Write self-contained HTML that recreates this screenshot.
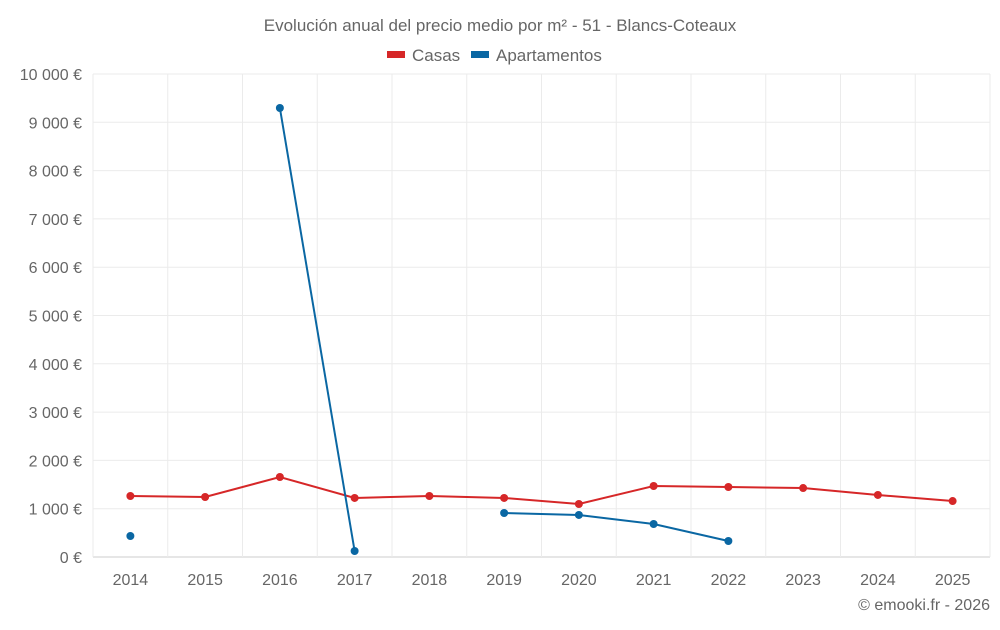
<!DOCTYPE html>
<html><head><meta charset="utf-8"><style>
body{margin:0;background:#fff;font-family:"Liberation Sans",sans-serif;}
svg text{font-family:"Liberation Sans",sans-serif;fill:#666;}
</style></head><body>
<svg id="chart" width="1000" height="625">
<text x="500" y="31" text-anchor="middle" font-size="17">Evolución anual del precio medio por m² - 51 - Blancs-Coteaux</text>
<g>
<g><rect x="387" y="51" width="18" height="7" fill="#d62728"/><text x="412" y="61" font-size="17">Casas</text></g>
<g><rect x="471" y="51" width="18" height="7" fill="#0a67a3"/><text x="496" y="61" font-size="17">Apartamentos</text></g>
</g>
<g id="grid"></g><g id="axes"></g><g id="series"></g>
<text x="990" y="610" text-anchor="end" font-size="16">© emooki.fr - 2026</text>
</svg>
<script>
const years=["2014","2015","2016","2017","2018","2019","2020","2021","2022","2023","2024","2025"];
const casas=[1263,1242,1656,1222,1263,1222,1097,1470,1449,1428,1284,1159];
const apartamentos=[435,null,9296,124,null,911,870,683,331,null,null,null];
const yTicks=[0,1000,2000,3000,4000,5000,6000,7000,8000,9000,10000];
const yTickLabels=["0 €","1 000 €","2 000 €","3 000 €","4 000 €","5 000 €","6 000 €","7 000 €","8 000 €","9 000 €","10 000 €"];
const L=93,R=990,T=74,B=557,NS="http://www.w3.org/2000/svg";
const bw=(R-L)/years.length;
const xs=i=>L+bw*(i+0.5);
const ys=v=>B-(v/10000)*(B-T);
function mk(tag,attrs,parent){const e=document.createElementNS(NS,tag);for(const k in attrs)e.setAttribute(k,attrs[k]);document.getElementById(parent).appendChild(e);return e;}
yTicks.forEach((v,i)=>{
 const g=mk("line",{x1:L,x2:R,y1:ys(v),y2:ys(v),stroke:i==0?"#ccc":"#ebebeb","stroke-width":1},"grid");
 
 
 const t=mk("text",{x:82,y:ys(v)+6,"text-anchor":"end","font-size":"16"},"axes");t.textContent=yTickLabels[i];
 
 
});
for(let i=0;i<=years.length;i++){
 const g=mk("line",{x1:L+bw*i,x2:L+bw*i,y1:T,y2:B,stroke:"#ebebeb"},"grid");
 
 
}
years.forEach((y,i)=>{const t=mk("text",{x:xs(i),y:585,"text-anchor":"middle","font-size":"16"},"axes");t.textContent=y;
 
 });
function drawSeries(data,color,name){
 let segs=[],cur=[];
 data.forEach((v,i)=>{if(v==null){if(cur.length)segs.push(cur);cur=[];}else cur.push([xs(i),ys(v)]);});
 if(cur.length)segs.push(cur);
 segs.forEach(s=>{if(s.length>1){const p=mk("polyline",{points:s.map(p=>p.join(",")).join(" "),fill:"none",stroke:color,"stroke-width":2},"series");
 
 }});
 data.forEach((v,i)=>{if(v==null)return;const c=mk("circle",{cx:xs(i),cy:ys(v),r:4,fill:color},"series");
 
 });
}
drawSeries(casas,"#d62728","casas");
drawSeries(apartamentos,"#0a67a3","apartamentos");
</script>
</body></html>
